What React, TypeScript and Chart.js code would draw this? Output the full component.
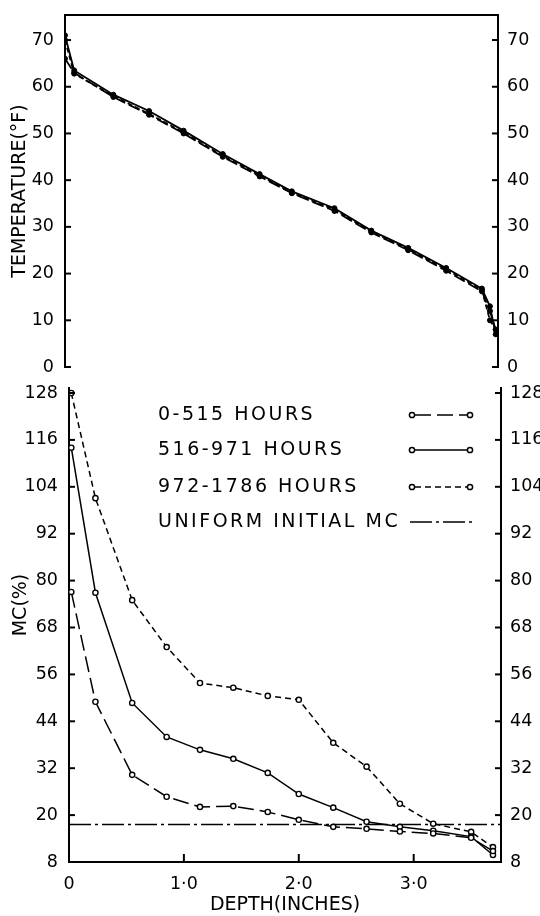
import React, { useEffect, useRef } from "react";
import { Chart, registerables } from "chart.js";
Chart.register(...registerables);

const FONT = "'DejaVu Sans', sans-serif";

// ---- Top chart: temperature profile ----
const tempDepth = [0, 0.08, 0.42, 0.73, 1.03, 1.37, 1.69, 1.97, 2.34, 2.66, 2.98, 3.31, 3.62, 3.69, 3.74];
const temp0515 = [66, 63, 57.8, 54, 50, 45, 40.8, 37.2, 33.4, 28.8, 25, 20.6, 16.2, 12, 8];
const temp516971 = [71, 63.5, 58.3, 54.8, 50.6, 45.6, 41.3, 37.6, 34, 29.2, 25.5, 21.2, 16.8, 13, 7];
const temp9721786 = [70, 62.8, 58, 54.2, 50.2, 45.2, 41, 37.3, 33.7, 29, 25.2, 20.9, 16.5, 10, 8];
const tempTicks = [0, 10, 20, 30, 40, 50, 60, 70];

// ---- Bottom chart: moisture content profile ----
const mcDepth = [0.02, 0.23, 0.55, 0.85, 1.14, 1.43, 1.73, 2.0, 2.3, 2.59, 2.88, 3.17, 3.5, 3.69];
const mc0515 = [77.1, 49, 30.3, 24.7, 22.1, 22.3, 20.8, 18.8, 17, 16.5, 15.8, 15.3, 14.2, 10.8];
const mc516971 = [114, 76.9, 48.7, 40, 36.7, 34.4, 30.8, 25.4, 21.9, 18.3, 17, 16, 14.5, 9.8];
const mc9721786 = [128, 101.1, 75, 63, 53.8, 52.6, 50.5, 49.5, 38.5, 32.4, 22.9, 17.8, 15.7, 11.8];
const uniformMC = 17.6;
const uniformDepth = [0, 3.76];
const mcTicks = [8, 20, 32, 44, 56, 68, 80, 92, 104, 116, 128];
const depthTicks = [0, 1, 2, 3];
const depthTickLabels = ["0", "1·0", "2·0", "3·0"];
const seriesLabels = ["0-515 HOURS", "516-971 HOURS", "972-1786 HOURS", "UNIFORM INITIAL MC"];
const seriesDash = [[16, 6], [], [6, 4], [22, 4, 3, 4]];

const X_MAX = 3.76;

function pts(xs: number[], ys: number[]) {
  return xs.map((x, i) => ({ x, y: ys[i] }));
}

function inwardTicks(chart: any, ids: string[], len: number) {
  const ctx = chart.ctx;
  const area = chart.chartArea;
  ctx.save();
  ctx.strokeStyle = "#000";
  ctx.lineWidth = 2;
  for (const id of ids) {
    const s = chart.scales[id];
    if (!s) continue;
    for (const t of s.ticks) {
      const p = s.getPixelForValue(t.value);
      ctx.beginPath();
      if (s.position === "left") {
        ctx.moveTo(area.left, p);
        ctx.lineTo(area.left + len, p);
      } else if (s.position === "right") {
        ctx.moveTo(area.right, p);
        ctx.lineTo(area.right - len, p);
      } else {
        ctx.moveTo(p, area.bottom);
        ctx.lineTo(p, area.bottom - 8);
      }
      ctx.stroke();
    }
  }
  ctx.restore();
}

const tickFont = { family: FONT, size: 17.5 };
const yScale = (pos: "left" | "right", min: number, max: number, ticks: number[], width: number, title?: string) => ({
  type: "linear",
  position: pos,
  min,
  max,
  afterBuildTicks: (s: any) => {
    s.ticks = ticks.map((v) => ({ value: v }));
  },
  afterFit: (s: any) => {
    s.width = width;
    s.paddingTop = 0;
    s.paddingBottom = 0;
  },
  grid: { display: false },
  border: { display: true, color: "#000", width: 2 },
  ticks: { color: "#000", font: tickFont, padding: pos === "left" ? 3 : 1 },
  title: title
    ? { display: true, text: title, color: "#000", font: { family: FONT, size: 19 }, padding: { top: 9, bottom: 0 } }
    : { display: false },
});

export default function App() {
  const topRef = useRef<HTMLCanvasElement>(null);
  const botRef = useRef<HTMLCanvasElement>(null);

  useEffect(() => {
    const topPlugin = {
      id: "topDecor",
      afterDraw(chart: any) {
        const ctx = chart.ctx;
        const a = chart.chartArea;
        ctx.save();
        ctx.strokeStyle = "#000";
        ctx.lineWidth = 2;
        ctx.beginPath();
        ctx.moveTo(a.left - 1, a.top);
        ctx.lineTo(a.right + 1, a.top);
        ctx.stroke();
        ctx.restore();
        inwardTicks(chart, ["y", "y2"], 6);
      },
    };

    const tempDash = [[12, 4], [], [5, 3]];
    const tempSeries = [temp0515, temp516971, temp9721786];

    const c1 = new Chart(topRef.current as HTMLCanvasElement, {
      type: "line",
      data: {
        datasets: tempSeries.map((ys, i) => ({
          label: seriesLabels[i],
          data: pts(tempDepth, ys),
          borderColor: "#000",
          borderWidth: 1.8,
          borderDash: tempDash[i],
          pointRadius: 2.5,
          pointBackgroundColor: "#000",
          pointBorderColor: "#000",
          pointBorderWidth: 1,
          tension: 0,
        })),
      },
      options: {
        responsive: false,
        animation: false,
        devicePixelRatio: 1,
        layout: { padding: { top: 15, bottom: 11, left: 0, right: 0 } },
        plugins: { legend: { display: false }, tooltip: { enabled: false } },
        scales: {
          x: { type: "linear", min: 0, max: X_MAX, display: false },
          y: yScale("left", 0, 75.36, tempTicks, 65, "TEMPERATURE(°F)"),
          y2: yScale("right", 0, 75.36, tempTicks, 42),
        },
      } as any,
      plugins: [topPlugin],
    });

    const botPlugin = {
      id: "botDecor",
      afterDraw(chart: any) {
        inwardTicks(chart, ["y", "y2", "x"], 6);
        const ctx = chart.ctx;
        ctx.save();
        ctx.fillStyle = "#000";
        ctx.strokeStyle = "#000";
        // Legend
        const rowY = [37, 72, 109, 144];
        ctx.font = `19px ${FONT}`;
        ctx.letterSpacing = "2.5px";
        ctx.textBaseline = "middle";
        ctx.textAlign = "left";
        chart.data.datasets.forEach((ds: any, i: number) => {
          const y = rowY[i];
          ctx.fillText(ds.label, 158, y);
          ctx.lineWidth = 1.5;
          ctx.setLineDash(ds.borderDash || []);
          const isUniform = i === 3;
          ctx.beginPath();
          ctx.moveTo(isUniform ? 410 : 415, y);
          ctx.lineTo(isUniform ? 473 : 467, y);
          ctx.stroke();
          ctx.setLineDash([]);
          if (!isUniform) {
            for (const cx of [412, 470]) {
              ctx.beginPath();
              ctx.arc(cx, y, 2.6, 0, Math.PI * 2);
              ctx.fillStyle = "#fff";
              ctx.fill();
              ctx.stroke();
            }
            ctx.fillStyle = "#000";
          }
        });
        // MC axis title
        ctx.letterSpacing = "0px";
        ctx.font = `19px ${FONT}`;
        ctx.textAlign = "center";
        ctx.translate(21, 227);
        ctx.rotate(-Math.PI / 2);
        ctx.fillText("MC(%)", 0, 0);
        ctx.restore();
      },
    };

    const mcSeries = [mc0515, mc516971, mc9721786];
    const c2 = new Chart(botRef.current as HTMLCanvasElement, {
      type: "line",
      data: {
        datasets: [
          ...mcSeries.map((ys, i) => ({
            label: seriesLabels[i],
            data: pts(mcDepth, ys),
            borderColor: "#000",
            borderWidth: 1.5,
            borderDash: seriesDash[i],
            pointRadius: 2.6,
            pointBackgroundColor: "#fff",
            pointBorderColor: "#000",
            pointBorderWidth: 1.4,
            tension: 0,
          })),
          {
            label: seriesLabels[3],
            data: uniformDepth.map((x) => ({ x, y: uniformMC })),
            borderColor: "#000",
            borderWidth: 1.3,
            borderDash: seriesDash[3],
            pointRadius: 0,
            tension: 0,
          },
        ],
      },
      options: {
        responsive: false,
        animation: false,
        devicePixelRatio: 1,
        layout: { padding: { top: 10, bottom: 0, left: 0, right: 0 } },
        plugins: { legend: { display: false }, tooltip: { enabled: false } },
        scales: {
          x: {
            type: "linear",
            position: "bottom",
            min: 0,
            max: X_MAX,
            afterBuildTicks: (s: any) => {
              s.ticks = depthTicks.map((v) => ({ value: v }));
            },
            afterFit: (s: any) => {
              s.height = 54;
              s.paddingLeft = 0;
              s.paddingRight = 0;
            },
            grid: { display: false },
            border: { display: true, color: "#000", width: 2 },
            ticks: {
              color: "#000",
              font: tickFont,
              padding: 4,
              maxRotation: 0,
              callback: (v: number) => {
                const i = depthTicks.indexOf(v);
                return i >= 0 ? depthTickLabels[i] : "";
              },
            },
            title: {
              display: true,
              text: "DEPTH(INCHES)",
              color: "#000",
              font: { family: FONT, size: 19 },
              padding: { top: 0, bottom: 0 },
            },
          },
          y: yScale("left", 8, 129.28, mcTicks, 69),
          y2: yScale("right", 8, 129.28, mcTicks, 39),
        },
      } as any,
      plugins: [botPlugin],
    });

    return () => {
      c1.destroy();
      c2.destroy();
    };
  }, []);

  return (
    <div style={{ position: "absolute", left: 0, top: 0, width: 540, height: 916, background: "#fff" }}>
      <canvas ref={topRef} width={540} height={378} style={{ display: "block", width: 540, height: 378 }} />
      <canvas ref={botRef} width={540} height={538} style={{ display: "block", width: 540, height: 538 }} />
    </div>
  );
}
